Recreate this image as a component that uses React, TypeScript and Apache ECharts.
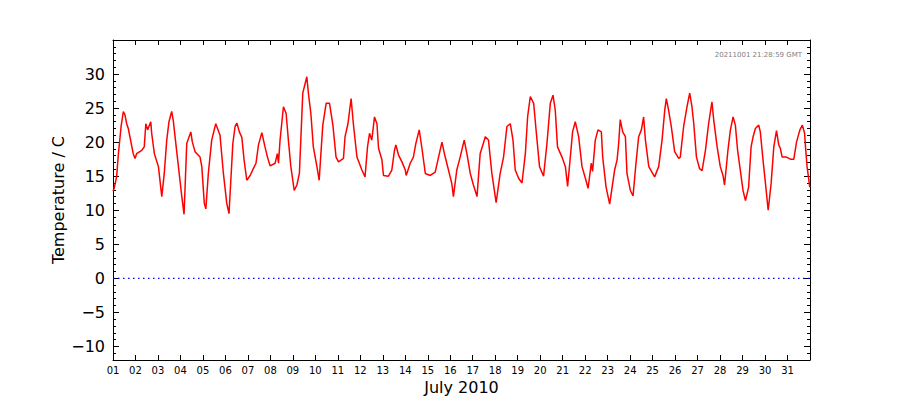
import React, { useEffect, useRef } from "react";
import * as echarts from "echarts";

// Time as fractional day of July 2010 (1.0 = 1 July 00:00)
const times = [
  1.00, 1.05, 1.16, 1.24, 1.36, 1.46, 1.53, 1.61, 1.68, 1.90, 1.98, 2.05, 2.28, 2.39, 2.46, 2.54, 2.68, 2.72, 2.84,
  3.02, 3.17, 3.28, 3.39, 3.49, 3.61, 3.68, 3.76, 3.91, 4.06, 4.16, 4.28, 4.46, 4.53, 4.65, 4.87, 4.95,
  5.06, 5.13, 5.24, 5.39, 5.57, 5.76, 5.91, 6.06, 6.16, 6.33, 6.43, 6.51, 6.62, 6.73, 6.83, 6.95,
  7.10, 7.24, 7.36, 7.47, 7.62, 7.76, 7.87, 7.99, 8.21, 8.31, 8.36, 8.43, 8.58, 8.70, 8.80, 8.91,
  9.06, 9.18, 9.29, 9.44, 9.62, 9.69, 9.80, 9.91, 10.07, 10.17, 10.33, 10.48, 10.63, 10.78, 10.92,
  11.03, 11.25, 11.32, 11.45, 11.59, 11.69, 11.85, 12.07, 12.21, 12.32, 12.41, 12.51, 12.63, 12.74, 12.81, 12.96,
  13.03, 13.25, 13.40, 13.52, 13.58, 13.70, 13.85, 14.00, 14.04, 14.22, 14.36, 14.47, 14.62, 14.74, 14.89,
  15.11, 15.33, 15.48, 15.63, 15.74, 15.92, 16.07, 16.14, 16.29, 16.44, 16.62, 16.74, 16.89,
  17.03, 17.19, 17.33, 17.56, 17.70, 17.85, 18.04, 18.22, 18.37, 18.52, 18.67, 18.79, 18.89,
  19.04, 19.19, 19.34, 19.44, 19.56, 19.71, 19.83, 19.97, 20.15, 20.30, 20.45, 20.57, 20.67, 20.77, 20.97,
  21.12, 21.22, 21.34, 21.44, 21.56, 21.71, 21.86, 22.01, 22.13, 22.27, 22.33, 22.45, 22.57, 22.72, 22.78, 22.93,
  23.09, 23.31, 23.42, 23.49, 23.56, 23.67, 23.79, 23.86, 24.01, 24.13, 24.26, 24.38, 24.50, 24.60, 24.68, 24.83,
  25.09, 25.27, 25.42, 25.54, 25.61, 25.71, 25.83, 25.98, 26.16, 26.23, 26.38, 26.53, 26.65, 26.75, 26.83, 26.95,
  27.09, 27.20, 27.35, 27.49, 27.64, 27.72, 27.87, 28.01, 28.13, 28.20, 28.35, 28.46, 28.58, 28.68, 28.78, 28.90,
  29.02, 29.13, 29.27, 29.38, 29.47, 29.57, 29.72, 29.79, 29.91, 30.02, 30.14, 30.27, 30.39, 30.51, 30.61, 30.68, 30.76, 30.95,
  31.13, 31.28, 31.40, 31.55, 31.66, 31.76, 31.80, 31.87, 31.99,
];

// Temperature (°C)
const temps = [
  12.8, 13.2, 14.9, 18.3, 22.3, 24.5, 24.0, 22.7, 22.0, 18.3, 17.6, 18.3, 18.8, 19.3, 22.7, 21.8, 23.0, 21.3, 18.3,
  16.4, 12.0, 15.4, 20.3, 23.0, 24.5, 23.2, 20.8, 16.4, 12.0, 9.4, 19.8, 21.5, 20.0, 18.6, 17.8, 16.4,
  11.0, 10.2, 15.4, 20.3, 22.7, 21.0, 15.4, 11.0, 9.5, 19.8, 22.3, 22.8, 21.5, 20.7, 17.4, 14.4,
  15.1, 16.1, 16.9, 19.6, 21.4, 19.3, 17.8, 16.5, 16.9, 18.3, 16.9, 20.3, 25.2, 24.2, 20.3, 16.4,
  12.9, 13.7, 15.4, 27.2, 29.6, 27.2, 24.2, 19.3, 16.4, 14.4, 22.5, 25.7, 25.7, 22.5, 17.8,
  17.1, 17.6, 20.8, 22.7, 26.4, 22.7, 17.8, 15.9, 14.9, 19.3, 21.3, 20.3, 23.7, 22.7, 19.1, 17.4,
  15.1, 15.0, 15.9, 18.8, 19.6, 18.1, 17.1, 15.9, 15.1, 16.9, 17.8, 19.8, 21.8, 19.1, 15.4,
  15.1, 15.6, 17.8, 20.0, 18.3, 15.9, 13.9, 12.0, 15.9, 17.8, 20.3, 18.3, 15.4,
  13.7, 12.0, 18.3, 20.8, 20.3, 15.4, 11.1, 15.4, 17.8, 22.3, 22.7, 20.3, 15.9,
  14.7, 14.0, 18.3, 23.7, 26.7, 25.7, 21.3, 16.4, 15.0, 19.8, 25.7, 26.9, 24.7, 19.3, 17.8,
  16.4, 13.5, 17.8, 21.5, 23.0, 20.8, 16.4, 14.7, 13.2, 16.9, 15.7, 20.3, 21.8, 21.5, 17.8, 13.4,
  10.9, 15.9, 17.4, 19.8, 23.3, 21.5, 20.8, 15.4, 12.9, 12.1, 16.9, 20.8, 21.8, 23.7, 20.3, 16.4,
  14.9, 16.4, 20.3, 24.7, 26.4, 24.7, 22.3, 18.6, 17.6, 17.8, 22.3, 25.2, 27.2, 25.2, 22.7, 17.8,
  16.1, 15.8, 18.8, 22.7, 25.9, 23.2, 19.3, 16.4, 15.1, 13.7, 18.8, 21.8, 23.7, 22.5, 18.8, 15.9,
  12.9, 11.4, 13.4, 19.3, 20.8, 22.0, 22.5, 21.5, 17.4, 13.9, 10.0, 13.9, 19.3, 21.7, 19.6, 19.1, 17.8, 17.8,
  17.5, 17.5, 20.0, 21.8, 22.5, 21.3, 19.3, 16.4, 13.4,
];

const zeroLineX = [1, 32];
const zeroLineY = [0, 0];

const yMajorTicks = [-10, -5, 0, 5, 10, 15, 20, 25, 30];
const xAxisTitle = "July 2010";
const yAxisTitle = "Temperature / C";
const stamp = "20211001 21:28:59 GMT";

const FONT = "DejaVu Sans";

export default function App() {
  const ref = useRef<HTMLDivElement>(null);

  useEffect(() => {
    if (!ref.current) return;
    const chart = echarts.init(ref.current, null, { renderer: "svg" });

    const tempData = times.map((t, i) => [t, temps[i]]);
    const zeroData = zeroLineX.map((x, i) => [x, zeroLineY[i]]);

    const fmtY = (v: number) => (v < 0 ? "\u2212" + Math.abs(v) : String(v));
    const fmtX = (v: number) => (v >= 32 ? "" : (v < 10 ? "0" : "") + v);

    const baseY = {
      type: "value",
      min: -12,
      max: 35,
      splitLine: { show: false },
      axisLine: { show: true, onZero: false, lineStyle: { color: "#000", width: 1 } },
    };

    chart.setOption({
      animation: false,
      backgroundColor: "#fff",
      grid: { left: 113, right: 90, top: 40, bottom: 40, containLabel: false, outerBoundsMode: "none" },
      xAxis: [
        {
          type: "value",
          position: "bottom",
          min: 1,
          max: 32,
          interval: 1,
          splitLine: { show: false },
          axisLine: { show: true, onZero: false, lineStyle: { color: "#000", width: 1 } },
          axisTick: { show: true, inside: true, length: 5, lineStyle: { color: "#000" } },
          axisLabel: { formatter: fmtX, fontSize: 10, color: "#000", fontFamily: FONT, margin: 5 },
          name: xAxisTitle,
          nameLocation: "middle",
          nameGap: 19,
          nameMoveOverlap: false,
          nameTextStyle: { fontSize: 16, color: "#000", fontFamily: FONT },
        },
        {
          type: "value",
          position: "top",
          min: 1,
          max: 32,
          interval: 1,
          splitLine: { show: false },
          axisLine: { show: true, onZero: false, lineStyle: { color: "#000", width: 1 } },
          axisTick: { show: true, inside: true, length: 5, lineStyle: { color: "#000" } },
          axisLabel: { show: false },
        },
      ],
      yAxis: [
        {
          ...baseY,
          position: "left",
          axisTick: { show: true, inside: true, length: 6, customValues: yMajorTicks, lineStyle: { color: "#000" } },
          axisLabel: { customValues: yMajorTicks, formatter: fmtY, fontSize: 16, color: "#000", fontFamily: FONT, margin: 8 },
          name: yAxisTitle,
          nameLocation: "middle",
          nameRotate: 90,
          nameGap: 47,
          nameMoveOverlap: false,
          nameTextStyle: { fontSize: 16, color: "#000", fontFamily: FONT },
        },
        {
          ...baseY,
          position: "left",
          interval: 1,
          axisLine: { show: false },
          axisTick: { show: true, inside: true, length: 3, lineStyle: { color: "#000" } },
          axisLabel: { show: false },
        },
        {
          ...baseY,
          position: "right",
          axisTick: { show: true, inside: true, length: 6, customValues: yMajorTicks, lineStyle: { color: "#000" } },
          axisLabel: { show: false },
        },
        {
          ...baseY,
          position: "right",
          interval: 1,
          axisLine: { show: false },
          axisTick: { show: true, inside: true, length: 3, lineStyle: { color: "#000" } },
          axisLabel: { show: false },
        },
      ],
      graphic: [
        {
          type: "text",
          right: 98,
          top: 51,
          style: { text: stamp, fontSize: 7, fill: "#808080", fontFamily: FONT },
        },
      ],
      series: [
        {
          type: "line",
          name: "zero",
          xAxisIndex: 0,
          yAxisIndex: 0,
          data: zeroData,
          showSymbol: false,
          silent: true,
          lineStyle: { color: "#0000ff", width: 1.2, type: [1.5, 3.5] },
        },
        {
          type: "line",
          name: "Temperature",
          xAxisIndex: 0,
          yAxisIndex: 0,
          data: tempData,
          showSymbol: false,
          silent: true,
          lineStyle: { color: "#ff0000", width: 1.5 },
        },
      ],
    });

    return () => chart.dispose();
  }, []);

  return (
    <div
      ref={ref}
      style={{ position: "absolute", left: 0, top: 0, width: 900, height: 400, background: "#fff" }}
    />
  );
}
